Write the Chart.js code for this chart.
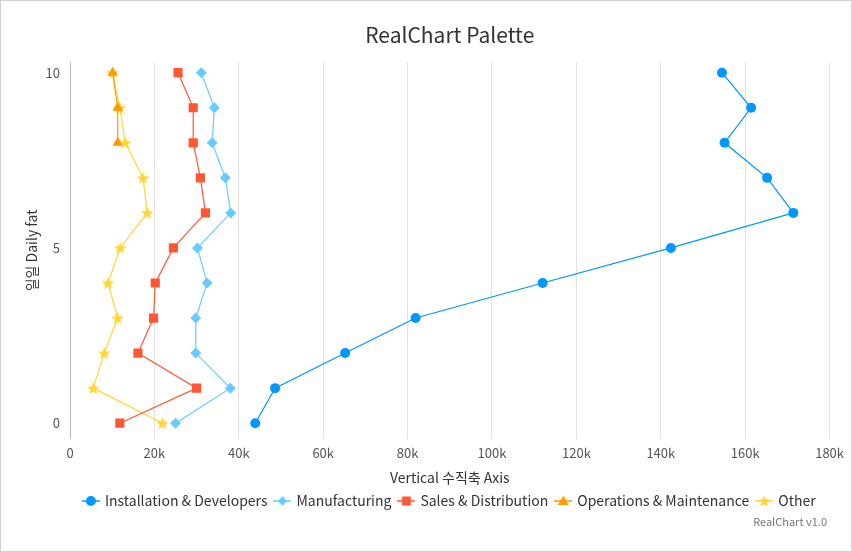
<!DOCTYPE html>
<html>
<head>
<meta charset="utf-8">
<script src="https://cdn.jsdelivr.net/npm/chart.js@4.4.1/dist/chart.umd.min.js"></script>
<style>
html,body{margin:0;padding:0;background:#fff;}
#wrap{width:852px;height:552px;box-sizing:border-box;border:1px solid #d0d0d0;position:relative;}
canvas{display:block;}
</style>
</head>
<body>
<div id="wrap"><canvas id="c" width="850" height="550"></canvas></div>
<script>
const days = [0,1,2,3,4,5,6,7,8,9,10];
const installation = [43900,48600,65200,81900,112000,142400,171400,165200,155100,161400,154500];
const manufacturing = [25000,38000,29800,29800,32500,30200,38100,36800,33700,34200,31100];
const sales = [11800,30000,16100,19800,20200,24500,32100,30900,29200,29200,25600];
const operations = [null,null,null,null,null,null,null,null,11300,11300,10100];
const other = [21900,5500,8100,11300,9000,11900,18300,17300,13100,11800,10100];
const seriesNames = ['Installation & Developers','Manufacturing','Sales & Distribution','Operations & Maintenance','Other'];
const colors = ['#0098ff','#66ccff','#ff5733','#ff9900','#ffd633'];
const yTicks = [0,5,10];
const xTicks = [0,20000,40000,60000,80000,100000,120000,140000,160000,180000];

const FONT = "'Noto Sans CJK KR','Noto Sans',sans-serif";

function starPath(g, cx, cy, r){
  for(let i=0;i<10;i++){
    const rad = i%2===0 ? r : r*0.45;
    const a = -Math.PI/2 + i*Math.PI/5;
    const px = cx + rad*Math.cos(a), py = cy + rad*Math.sin(a);
    if(i===0) g.moveTo(px,py); else g.lineTo(px,py);
  }
  g.closePath();
}

function makeStar(color, r){
  const s = Math.ceil(r*2)+2;
  const cv = document.createElement('canvas');
  cv.width = s; cv.height = s;
  const g = cv.getContext('2d');
  g.fillStyle = color;
  g.beginPath();
  starPath(g, s/2, s/2+0.6, r);
  g.fill();
  return cv;
}
const starImg = makeStar(colors[4], 6.5);

function makeLegendIcon(idx){
  const w = 18, h = 14;
  const cv = document.createElement('canvas');
  cv.width = w; cv.height = h;
  const g = cv.getContext('2d');
  const c = colors[idx];
  g.strokeStyle = c; g.fillStyle = c; g.lineWidth = 1.5;
  g.beginPath(); g.moveTo(0,h/2); g.lineTo(w,h/2); g.stroke();
  const cx = w/2, cy = h/2;
  g.beginPath();
  if(idx===0){ g.arc(cx,cy,5,0,Math.PI*2); }
  else if(idx===1){ g.moveTo(cx,cy-5); g.lineTo(cx+4.5,cy); g.lineTo(cx,cy+5); g.lineTo(cx-4.5,cy); g.closePath(); }
  else if(idx===2){ g.rect(cx-4.5,cy-4.5,9,9); }
  else if(idx===3){ g.moveTo(cx,cy-5.5); g.lineTo(cx+5.5,cy+4); g.lineTo(cx-5.5,cy+4); g.closePath(); }
  else { starPath(g, cx, cy+0.5, 6); }
  g.fill();
  return cv;
}
const legendIcons = [0,1,2,3,4].map(makeLegendIcon);

const allSeries = [installation, manufacturing, sales, operations, other];
const pointStyles = ['circle','rectRot','rect','triangle',starImg];
const pointRadii = [5,5.5,6.5,6,6];

const datasets = allSeries.map((arr,i)=>({
  label: seriesNames[i],
  data: arr.map((v,j)=>({x:v, y:days[j]})),
  borderColor: colors[i],
  backgroundColor: colors[i],
  borderWidth: 1.2,
  pointStyle: pointStyles[i],
  pointRadius: pointRadii[i],
  pointHoverRadius: pointRadii[i],
  pointBorderWidth: 0,
  spanGaps: false,
  tension: 0
}));

const footerPlugin = {
  id:'footer',
  afterDraw(chart){
    const ctx = chart.ctx;
    ctx.save();
    ctx.font = "11px " + FONT;
    ctx.fillStyle = '#777';
    ctx.textAlign = 'right';
    ctx.textBaseline = 'middle';
    ctx.fillText('RealChart v1.0', 826, 521);
    ctx.restore();
  }
};

new Chart(document.getElementById('c'), {
  type: 'line',
  data: { datasets },
  plugins: [footerPlugin],
  options: {
    responsive: false,
    animation: false,
    events: [],
    layout: { padding: { left: 22, right: 20, top: 0, bottom: 33 } },
    plugins: {
      title: {
        display: true,
        text: 'RealChart Palette',
        fullSize: false,
        color: '#333',
        font: { family: FONT, size: 21, weight: 'normal' },
        padding: { top: 21, bottom: 15 }
      },
      legend: {
        position: 'bottom',
        fullSize: false,
        labels: {
          usePointStyle: true,
          pointStyleWidth: 14,
          boxHeight: 14,
          padding: 8,
          color: '#333',
          font: { family: FONT, size: 14 },
          generateLabels(chart){
            return chart.data.datasets.map((ds,i)=>({
              text: ds.label,
              pointStyle: legendIcons[i],
              fillStyle: colors[i],
              strokeStyle: colors[i],
              lineWidth: 0,
              hidden: false,
              datasetIndex: i,
              fontColor: '#333'
            }));
          }
        }
      },
      tooltip: { enabled: false }
    },
    scales: {
      x: {
        type: 'linear',
        min: 0, max: 180000,
        afterBuildTicks(scale){ scale.ticks = xTicks.map(v=>({value:v})); },
        ticks: {
          color: '#555',
          font: { family: FONT, size: 13 },
          padding: 7,
          callback: v => v===0 ? '0' : (v/1000)+'k'
        },
        grid: { color: '#e3e3e3', drawTicks: false, lineWidth: 1 },
        border: { display: false },
        title: {
          display: true,
          text: 'Vertical 수직축 Axis',
          color: '#333',
          font: { family: FONT, size: 14 },
          padding: { top: 1, bottom: 0 }
        }
      },
      y: {
        type: 'linear',
        min: -0.44, max: 10.3,
        afterBuildTicks(scale){ scale.ticks = yTicks.map(v=>({value:v})); },
        afterFit(scale){ scale.width = 47; },
        ticks: {
          color: '#555',
          font: { family: FONT, size: 13 },
          padding: 10
        },
        grid: { display: false, drawTicks: false },
        border: { display: true, color: '#bbb', width: 1 },
        title: {
          display: true,
          text: '일일 Daily fat',
          color: '#333',
          font: { family: FONT, size: 14 },
          padding: { top: 0, bottom: 8 }
        }
      }
    }
  }
});
</script>
</body>
</html>
